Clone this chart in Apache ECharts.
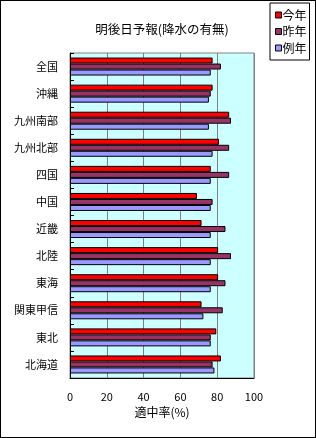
<!DOCTYPE html>
<html><head><meta charset="utf-8">
<script src="https://cdn.jsdelivr.net/npm/echarts@6/dist/echarts.min.js"></script>
<style>html,body{margin:0;padding:0;background:#fff}#c{width:316px;height:438px;box-sizing:border-box;border:1px solid #000}</style>
</head><body><div id="c"></div>
<script>
const categories = ['全国','沖縄','九州南部','九州北部','四国','中国','近畿','北陸','東海','関東甲信','東北','北海道'];
const thisYear = [77.5,77.5,86.5,81,76.5,69,71.5,80.5,80.5,71.5,79.5,82];
const lastYear = [82,76.5,87.5,86.5,86.5,77.5,84.5,87.5,84.5,83,76.5,77.5];
const normalYear = [76.5,75.5,75.5,77.5,76.5,76.5,76.5,76.5,76.5,72.5,76.5,78.5];
const xTicks = [0,20,40,60,80,100];
const font = '"Noto Sans CJK JP", sans-serif';
const chart = echarts.init(document.getElementById('c'));
const mk = (name, data, color) => ({
  name, type: 'bar', data, barWidth: 6, barGap: '0%', barCategoryGap: '33%',
  itemStyle: { color, borderColor: '#000', borderWidth: 1 }
});
chart.setOption({
  animation: false,
  title: { text: '明後日予報(降水の有無)', left: 156, top: 17, textAlign: 'center',
    textStyle: { fontFamily: font, fontSize: 12.5, fontWeight: 'normal', color: '#000' } },
  legend: { orient: 'vertical', left: 269, top: 2, itemWidth: 6, itemHeight: 6, itemGap: 4.5,
    padding: [6, 3, 6, 5], backgroundColor: '#fff', borderColor: '#000', borderWidth: 1, borderRadius: 0,
    icon: 'rect', itemStyle: { borderColor: '#000', borderWidth: 1 },
    textStyle: { fontFamily: font, fontSize: 12, color: '#000', padding: [0, 0, 0, -4] },
    data: ['今年','昨年','例年'] },
  grid: { left: 69, top: 52, width: 184, height: 325, show: true, backgroundColor: '#CCFFFF',
    borderColor: '#808080', borderWidth: 1, containLabel: false },
  xAxis: { type: 'value', min: 0, max: 100, interval: 20,
    name: '適中率(%)', nameLocation: 'middle', nameGap: 28,
    nameTextStyle: { fontFamily: font, fontSize: 12, color: '#000' },
    axisLine: { show: true, lineStyle: { color: '#000' } }, axisTick: { show: false },
    axisLabel: { fontFamily: font, fontSize: 11, color: '#000', margin: 13,
      formatter: v => xTicks.includes(v) ? String(v) : '' },
    splitLine: { show: true, lineStyle: { color: '#808080', width: 1 } } },
  yAxis: { type: 'category', data: categories, inverse: true,
    axisLine: { show: true, lineStyle: { color: '#000' } },
    axisTick: { show: true, inside: true, length: 4, lineStyle: { color: '#000' } },
    axisLabel: { fontFamily: font, fontSize: 11, color: '#000', margin: 12 },
    splitLine: { show: false } },
  series: [ mk('今年', thisYear, '#FF0000'), mk('昨年', lastYear, '#993366'), mk('例年', normalYear, '#9999FF') ]
});
</script></body></html>
